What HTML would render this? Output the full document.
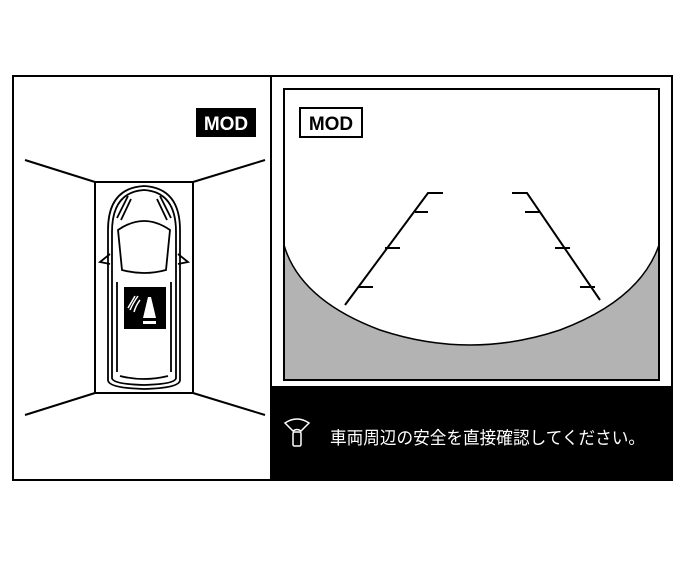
<!DOCTYPE html>
<html><head><meta charset="utf-8"><style>
body{margin:0;background:#fff;width:686px;height:556px;overflow:hidden}
</style></head><body>
<svg width="686" height="556" xmlns="http://www.w3.org/2000/svg">
<rect x="13" y="76" width="659" height="404" fill="#fff" stroke="#000" stroke-width="2"/>
<line x1="271" y1="76" x2="271" y2="480" stroke="#000" stroke-width="2"/>
<g stroke="#000" stroke-width="2" fill="none">
<rect x="95" y="182" width="98" height="211"/>
<line x1="25" y1="160" x2="95" y2="182"/><line x1="265" y1="160" x2="193" y2="182"/>
<line x1="25" y1="415" x2="95" y2="393"/><line x1="265" y1="415" x2="193" y2="393"/>
</g>
<g stroke="#000" stroke-width="1.8" fill="none">
<path d="M108,380 L108,230 Q108,188 144,186 Q180,188 180,230 L180,380 Q180,388 144,389 Q108,388 108,380 Z"/>
<path d="M112,378 L112,232 Q112,192 144,190 Q176,192 176,232 L176,378 Q176,384 144,385 Q112,384 112,378 Z"/>
<path d="M118,230 Q144,212 170,230 L166,270 Q144,276 122,270 Z"/>
<path d="M117,218 L128,196 M121,220 L131,199"/><path d="M171,218 L160,196 M167,220 L157,199"/>
<path d="M110,254 L100,262 L110,264"/><path d="M178,254 L188,262 L178,264"/>
<path d="M117,282 L117,372 M171,282 L171,372"/>
<path d="M120,376 Q144,382 168,376"/>
</g>
<rect x="124" y="287" width="42" height="42" fill="#000"/>
<path d="M148,297 L143,318 L156,318 L151,297 Z" fill="#fff"/>
<rect x="143" y="321" width="13" height="3" fill="#fff"/>
<path d="M138,296 Q133,303 130,310 M135,296 Q131,303 128,308 M140,300 Q136,305 134,312" stroke="#fff" stroke-width="1.5" fill="none"/>
<rect x="196" y="108" width="60" height="29" fill="#000"/>
<text x="226" y="130" font-family="Liberation Sans,sans-serif" font-weight="bold" font-size="19" fill="#fff" text-anchor="middle">MOD</text>
<rect x="271" y="386" width="401" height="94" fill="#000"/>
<path d="M284,245 Q300,300 380,330 Q470,360 560,330 Q640,300 659,245 L659,380 L284,380 Z" fill="#b3b3b3" stroke="#000" stroke-width="1.5"/>
<rect x="284" y="89" width="375" height="291" fill="none" stroke="#000" stroke-width="2"/>
<rect x="300" y="108" width="62" height="29" fill="#fff" stroke="#000" stroke-width="2"/>
<text x="331" y="130" font-family="Liberation Sans,sans-serif" font-weight="bold" font-size="19" fill="#000" text-anchor="middle">MOD</text>
<g stroke="#000" stroke-width="2" fill="none">
<path d="M345,305 L428,193 L443,193"/>
<path d="M415,212 L428,212 M385,248 L400,248 M358,287 L373,287"/>
<path d="M600,300 L527,193 L512,193"/>
<path d="M540,212 L525,212 M570,248 L555,248 M595,287 L580,287"/>
</g>
<g stroke="#fff" stroke-width="1.5" fill="none">
<path d="M285,423 Q297,415 309,423 L301,431 Q297,428 293,431 Z"/>
<rect x="293" y="432" width="8" height="14" rx="1.5"/>
</g>
<text x="330" y="444" textLength="315" lengthAdjust="spacingAndGlyphs" font-family="'Liberation Sans','Noto Sans CJK JP',sans-serif" font-size="17.5" fill="#fff">車両周辺の安全を直接確認してください。</text>
</svg>
</body></html>
